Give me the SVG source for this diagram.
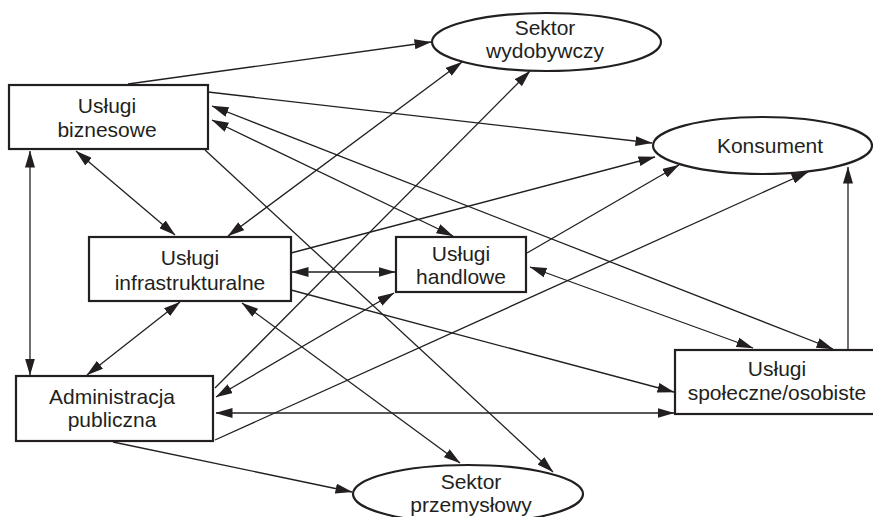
<svg xmlns="http://www.w3.org/2000/svg" width="873" height="517" viewBox="0 0 873 517">
<style>
.box{fill:#fff;stroke:#231f20;stroke-width:2.2}
.ell{fill:#fff;stroke:#231f20;stroke-width:2.2}
.t{font-family:"Liberation Sans",Arial,sans-serif;font-size:21px;fill:#231f20;text-anchor:middle}
.c line{stroke:#231f20;stroke-width:1.3;fill:none}
.one{marker-end:url(#ah)}
.two{marker-start:url(#ah);marker-end:url(#ah)}
</style>
<defs>
<marker id="ah" markerUnits="userSpaceOnUse" markerWidth="17" markerHeight="10" refX="16.5" refY="5" orient="auto-start-reverse" viewBox="0 0 17 10">
<path d="M0,0 L17,5 L0,10 z" fill="#231f20"/>
</marker>
</defs>
<rect width="873" height="517" fill="#fff"/>
<g class="c" id="connectors">
<line class="one" x1="128" y1="84" x2="431" y2="42"/>
<line class="one" x1="208" y1="92" x2="652" y2="143"/>
<line class="two" x1="212" y1="106" x2="833" y2="349"/>
<line class="two" x1="212" y1="120" x2="453" y2="236"/>
<line class="two" x1="76" y1="151" x2="175" y2="235"/>
<line class="two" x1="228" y1="236" x2="462" y2="62"/>
<line class="one" x1="205" y1="150" x2="553" y2="472"/>
<line class="two" x1="30" y1="151" x2="30" y2="375"/>
<line class="one" x1="291" y1="253" x2="655" y2="157"/>
<line class="two" x1="292" y1="272" x2="395" y2="272"/>
<line class="one" x1="291" y1="290" x2="674" y2="392"/>
<line class="two" x1="180" y1="302" x2="87" y2="375"/>
<line class="two" x1="242" y1="303" x2="460" y2="463"/>
<line class="one" x1="215" y1="388" x2="530" y2="71"/>
<line class="two" x1="394" y1="293" x2="216" y2="397"/>
<line class="two" x1="216" y1="413" x2="674" y2="413"/>
<line class="one" x1="215" y1="440" x2="808" y2="172"/>
<line class="one" x1="113" y1="442" x2="352" y2="492"/>
<line class="one" x1="527" y1="253" x2="679" y2="165"/>
<line class="two" x1="530" y1="267" x2="753" y2="348"/>
<line class="one" x1="848" y1="350" x2="848" y2="167"/>
</g>
<g id="uslugi-biznesowe">
<rect class="box" x="9" y="85" width="199" height="64"/>
<text class="t" x="107" y="113">Usługi</text>
<text class="t" x="107" y="137">biznesowe</text>
</g>
<g id="sektor-wydobywczy">
<ellipse class="ell" cx="546.5" cy="42" rx="114.5" ry="29"/>
<text class="t" x="545" y="35">Sektor</text>
<text class="t" x="545" y="58">wydobywczy</text>
</g>
<g id="konsument">
<ellipse class="ell" cx="762.5" cy="145.5" rx="109.5" ry="28.5"/>
<text class="t" x="770" y="153">Konsument</text>
</g>
<g id="uslugi-infrastrukturalne">
<rect class="box" x="89" y="237" width="202" height="64"/>
<text class="t" x="190" y="265">Usługi</text>
<text class="t" x="190" y="290">infrastrukturalne</text>
</g>
<g id="uslugi-handlowe">
<rect class="box" x="396" y="237" width="130" height="55"/>
<text class="t" x="461" y="261">Usługi</text>
<text class="t" x="461" y="284">handlowe</text>
</g>
<g id="administracja-publiczna">
<rect class="box" x="16" y="376" width="197" height="65"/>
<text class="t" x="112" y="404">Administracja</text>
<text class="t" x="112" y="427">publiczna</text>
</g>
<g id="uslugi-spoleczne">
<rect class="box" x="675" y="350" width="205" height="64"/>
<text class="t" x="777" y="376">Usługi</text>
<text class="t" x="777" y="400">społeczne/osobiste</text>
</g>
<g id="sektor-przemyslowy">
<ellipse class="ell" cx="468" cy="494" rx="115" ry="29"/>
<text class="t" x="471" y="489">Sektor</text>
<text class="t" x="471" y="512">przemysłowy</text>
</g>
</svg>
